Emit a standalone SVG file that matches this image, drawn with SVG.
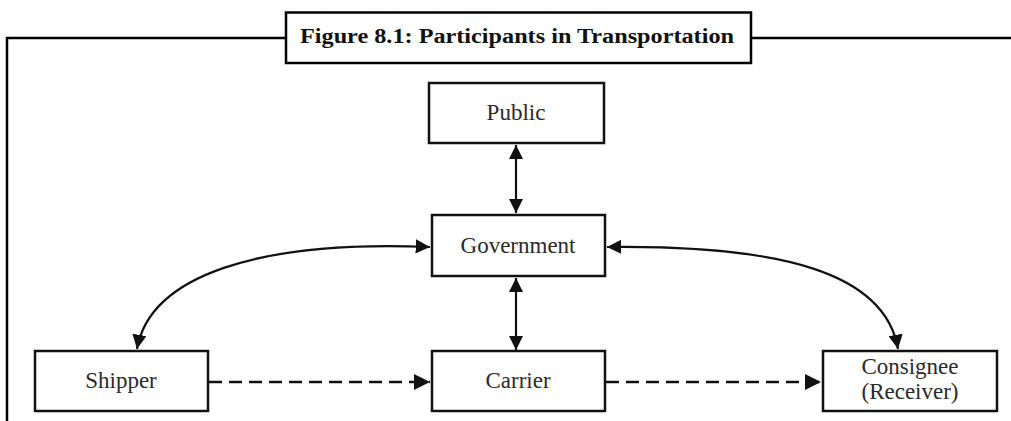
<svg xmlns="http://www.w3.org/2000/svg" width="1011" height="421" viewBox="0 0 1011 421">
<defs>
<style>
.box{fill:#fff;stroke:#111;stroke-width:2.5}
.lbl{font-family:"Liberation Serif","Times New Roman",serif;font-size:23px;fill:#2a2a2a;text-anchor:middle}
.ln{fill:none;stroke:#111;stroke-width:2.2}
.dash{stroke-dasharray:13 7;stroke-width:2.5}
.frame{fill:none;stroke:#000;stroke-width:2.5}
</style>
<marker id="ah" viewBox="0 0 10 10" refX="10" refY="5" markerWidth="6.5" markerHeight="6.5" markerUnits="strokeWidth" orient="auto-start-reverse">
<path d="M0,0 L10,5 L0,10 Z" fill="#111"/>
</marker>
</defs>
<rect width="1011" height="421" fill="#fff"/>
<g id="frame">
<polyline class="frame" points="286,38 7,38 7,421"/>
<line class="frame" x1="751" y1="38" x2="1011" y2="38"/>
<rect class="frame" x="286" y="12.5" width="465" height="50.5"/>
<text x="300" y="43" font-family="'Liberation Serif','Times New Roman',serif" font-weight="bold" font-size="20.5" fill="#111" textLength="434" lengthAdjust="spacingAndGlyphs">Figure 8.1: Participants in Transportation</text>
</g>
<g id="connectors">
<line class="ln" x1="516" y1="145" x2="516" y2="213" marker-start="url(#ah)" marker-end="url(#ah)"/>
<line class="ln" x1="516" y1="278" x2="516" y2="350" marker-start="url(#ah)" marker-end="url(#ah)"/>
<path class="ln" d="M430,247 C260,240 150,275 137,349" marker-start="url(#ah)" marker-end="url(#ah)"/>
<path class="ln" d="M607,247 C780,245 885,272 898,349" marker-start="url(#ah)" marker-end="url(#ah)"/>
<line class="ln dash" x1="209" y1="382" x2="430" y2="382" marker-end="url(#ah)"/>
<line class="ln dash" x1="606" y1="382" x2="821" y2="382" marker-end="url(#ah)"/>
</g>
<g id="public">
<rect class="box" x="429" y="83" width="175" height="60"/>
<text class="lbl" x="516" y="120">Public</text>
</g>
<g id="government">
<rect class="box" x="432" y="215" width="173" height="61"/>
<text class="lbl" x="518" y="253">Government</text>
</g>
<g id="shipper">
<rect class="box" x="35" y="351" width="173" height="60"/>
<text class="lbl" x="121" y="388">Shipper</text>
</g>
<g id="carrier">
<rect class="box" x="432" y="351" width="173" height="60"/>
<text class="lbl" x="518" y="388">Carrier</text>
</g>
<g id="consignee">
<rect class="box" x="823" y="351" width="174" height="60"/>
<text class="lbl" x="910" y="374">Consignee</text>
<text class="lbl" x="910" y="399">(Receiver)</text>
</g>
</svg>
